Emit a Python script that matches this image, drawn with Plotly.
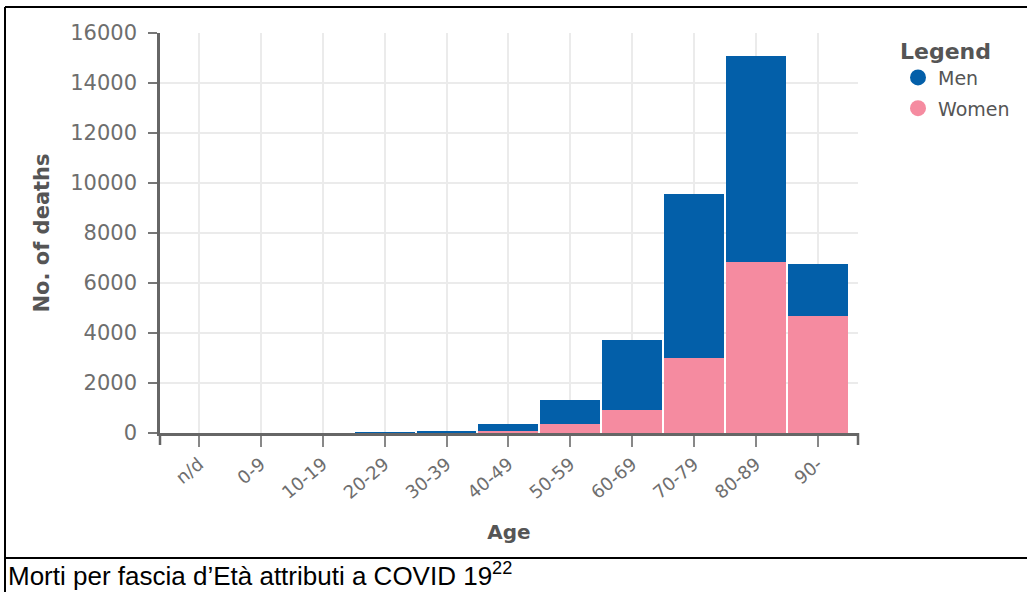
import plotly.graph_objects as go

# ---- data ----
age_groups = ["n/d", "0-9", "10-19", "20-29", "30-39", "40-49", "50-59",
              "60-69", "70-79", "80-89", "90-"]
women_deaths = [0, 0, 0, 6, 25, 100, 360, 920, 2985, 6840, 4665]
men_deaths = [0, 0, 0, 12, 55, 260, 945, 2785, 6575, 8250, 2095]
y_ticks = [0, 2000, 4000, 6000, 8000, 10000, 12000, 14000, 16000]

MEN_COLOR = "#035FA9"
WOMEN_COLOR = "#F58BA0"
AXIS_COLOR = "#666666"
TEXT_COLOR = "#6e6e6e"
TITLE_COLOR = "#555555"

W, H = 1027, 592
ML, MR, MT, MB = 160, 169, 33, 159
PW = W - ML - MR
PH = H - MT - MB


def px_x(px):
    return (px - ML) / PW


def px_y(py):
    return (H - MB - py) / PH


fig = go.Figure()
fig.add_trace(go.Bar(x=age_groups, y=women_deaths, name="Women",
                     marker=dict(color=WOMEN_COLOR, line=dict(width=0)),
                     showlegend=False))
fig.add_trace(go.Bar(x=age_groups, y=men_deaths, name="Men",
                     marker=dict(color=MEN_COLOR, line=dict(width=0)),
                     showlegend=False))
# legend entries (circle symbols)
fig.add_trace(go.Scatter(x=[None], y=[None], mode="markers", name="Men",
                         marker=dict(color=MEN_COLOR, size=17, symbol="circle"),
                         legendgroup="m"))
fig.add_trace(go.Scatter(x=[None], y=[None], mode="markers", name="Women",
                         marker=dict(color=WOMEN_COLOR, size=17, symbol="circle"),
                         legendgroup="w"))

fig.update_layout(
    width=W, height=H,
    margin=dict(l=ML, r=MR, t=MT, b=MB, autoexpand=False),
    barmode="stack", bargap=0.033,
    paper_bgcolor="white", plot_bgcolor="white",
    font=dict(family="DejaVu Sans", color=TEXT_COLOR),
    legend=dict(
        title=dict(text="<b>Legend</b>", font=dict(size=22, color=TITLE_COLOR)),
        font=dict(size=19, color=TITLE_COLOR),
        x=px_x(898), y=px_y(30), xanchor="left", yanchor="top",
        tracegroupgap=3, itemwidth=30, bgcolor="rgba(0,0,0,0)",
    ),
)

fig.update_xaxes(
    type="category", categoryorder="array", categoryarray=age_groups,
    range=[-0.63, 10.65],
    showline=True, linecolor=AXIS_COLOR, linewidth=2.5,
    ticks="outside", ticklen=11, tickwidth=2, tickcolor="#888888",
    tickangle=-40, tickfont=dict(size=18, color=TEXT_COLOR),
    showgrid=True, gridcolor="#ebebeb", gridwidth=1.5,
    title=dict(text="<b>Age</b>", font=dict(size=20, color=TITLE_COLOR), standoff=24),
)
fig.update_yaxes(
    range=[0, 16000], tickvals=y_ticks, tickformat="d",
    showline=True, linecolor=AXIS_COLOR, linewidth=2.5,
    ticks="outside", ticklen=9, tickwidth=2, tickcolor="#777777",
    tickfont=dict(size=21, color=TEXT_COLOR),
    ticklabelstandoff=7,
    showgrid=True, gridcolor="#ebebeb", gridwidth=1.5, zeroline=False,
    title=dict(text="<b>No. of deaths</b>", font=dict(size=21, color=TITLE_COLOR), standoff=15),
)

shapes = []
# outer ticks at the ends of the x axis
for xd in (0, 1):
    shapes.append(dict(type="line", xref="x domain", yref="y domain",
                       x0=xd, x1=xd, y0=0, y1=-12 / PH,
                       line=dict(color=AXIS_COLOR, width=2.5)))
# document table borders
shapes.append(dict(type="line", xref="paper", yref="paper",
                   x0=px_x(5), x1=px_x(5), y0=px_y(7), y1=px_y(600),
                   line=dict(color="black", width=2)))
shapes.append(dict(type="line", xref="paper", yref="paper",
                   x0=px_x(5), x1=px_x(1040), y0=px_y(7), y1=px_y(7),
                   line=dict(color="black", width=2)))
shapes.append(dict(type="line", xref="paper", yref="paper",
                   x0=px_x(5), x1=px_x(1040), y0=px_y(558), y1=px_y(558),
                   line=dict(color="black", width=2)))
fig.update_layout(shapes=shapes)

fig.add_annotation(
    text="Morti per fascia d’Età attributi a COVID 19<sup>22</sup>",
    xref="paper", yref="paper", x=px_x(6), y=px_y(574),
    xanchor="left", yanchor="middle", showarrow=False,
    font=dict(family="Liberation Sans, Arial", size=26, color="black"),
)

fig.write_html("out.html")
